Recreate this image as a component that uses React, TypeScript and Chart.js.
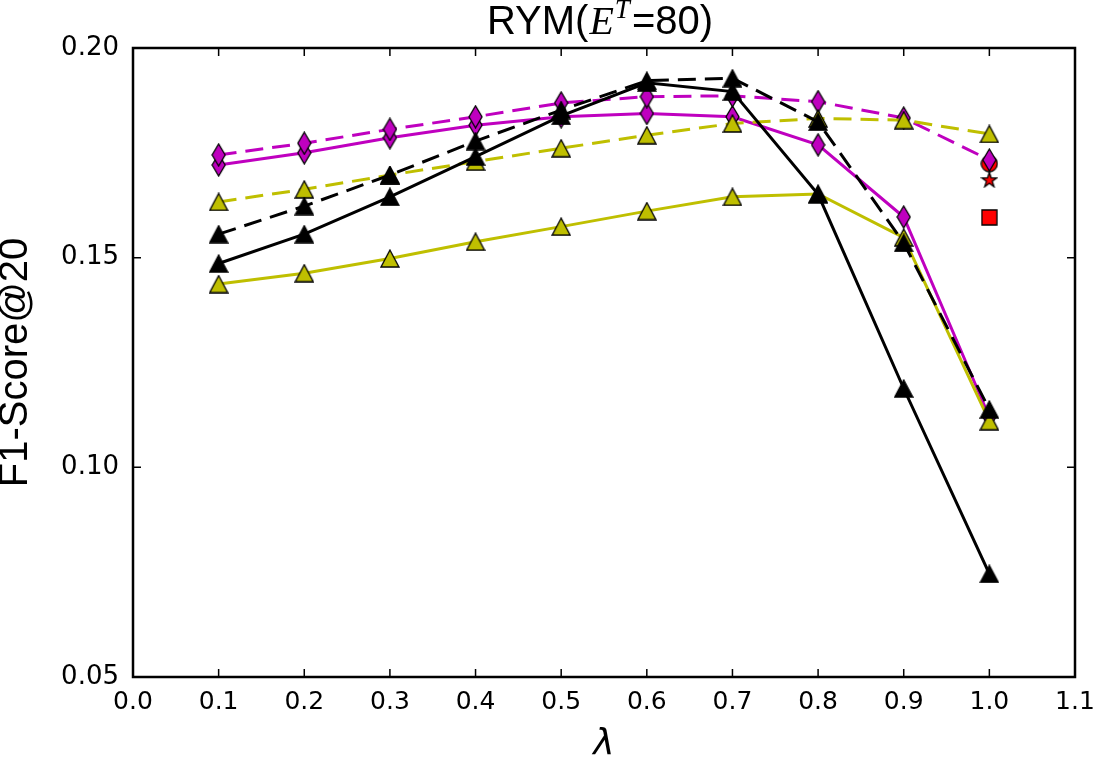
import React, { useEffect, useRef } from 'react';
import { Chart, registerables } from 'chart.js';

Chart.register(...registerables);

// ---- data ----
const lambdas = [0.1, 0.2, 0.3, 0.4, 0.5, 0.6, 0.7, 0.8, 0.9, 1.0];
const blackSolid = [0.1486, 0.1556, 0.1645, 0.1741, 0.1838, 0.1917, 0.1896, 0.1651, 0.1188, 0.0746];
const blackDashed = [0.1556, 0.1623, 0.1697, 0.1778, 0.1852, 0.1922, 0.1928, 0.1824, 0.1535, 0.1138];
const yellowSolid = [0.1437, 0.1463, 0.1498, 0.1538, 0.1574, 0.1611, 0.1645, 0.1652, 0.1548, 0.1110];
const yellowDashed = [0.1633, 0.1663, 0.1697, 0.1729, 0.1761, 0.1792, 0.1820, 0.1832, 0.1828, 0.1795];
const magentaSolid = [0.1721, 0.1750, 0.1786, 0.1816, 0.1836, 0.1844, 0.1836, 0.1769, 0.1597, 0.1120];
const magentaDashed = [0.1745, 0.1773, 0.1806, 0.1836, 0.1869, 0.1884, 0.1886, 0.1872, 0.1833, 0.1733];
const redCircle = [{ x: 1.0, y: 0.1724 }];
const redStar = [{ x: 1.0, y: 0.1687 }];
const redSquare = [{ x: 1.0, y: 0.1596 }];

const xMin = 0.0;
const xMax = 1.1;
const xStep = 0.1;
const yMin = 0.05;
const yMax = 0.2;
const yStep = 0.05;

const titleParts = [
  { text: 'RYM(', font: '40px "Liberation Sans", Arial, sans-serif', dy: 0 },
  { text: 'E', font: 'italic 40px "Liberation Serif", "DejaVu Serif", serif', dy: 0 },
  { text: 'T', font: 'italic 27px "Liberation Serif", "DejaVu Serif", serif', dy: -16 },
  { text: '=80)', font: '40px "Liberation Sans", Arial, sans-serif', dy: 0 },
];
const yTitle = 'F1-Score@20';
const xTitle = 'λ';

const YELLOW = '#bfbf00';
const MAGENTA = '#bf00bf';
const BLACK = '#000000';
const RED = '#ff0000';

function makeMarker(shape: string, fill: string, w: number, h: number): HTMLCanvasElement {
  const c = document.createElement('canvas');
  c.width = w;
  c.height = h;
  const ctx = c.getContext('2d')!;
  ctx.fillStyle = fill;
  ctx.strokeStyle = '#000';
  ctx.lineWidth = 1.3;
  ctx.lineJoin = 'miter';
  const m = 1;
  ctx.beginPath();
  if (shape === 'triangle') {
    ctx.moveTo(w / 2, m);
    ctx.lineTo(w - m, h - m);
    ctx.lineTo(m, h - m);
    ctx.closePath();
  } else if (shape === 'diamond') {
    ctx.moveTo(w / 2, m);
    ctx.lineTo(w - m, h / 2);
    ctx.lineTo(w / 2, h - m);
    ctx.lineTo(m, h / 2);
    ctx.closePath();
  } else if (shape === 'circle') {
    ctx.arc(w / 2, h / 2, w / 2 - m, 0, Math.PI * 2);
  } else if (shape === 'square') {
    ctx.rect(m, m, w - 2 * m, h - 2 * m);
  } else if (shape === 'star') {
    const ro = w / 2 - m;
    const ri = ro * 0.382;
    for (let i = 0; i < 10; i++) {
      const r = i % 2 === 0 ? ro : ri;
      const a = -Math.PI / 2 + (i * Math.PI) / 5;
      const px = w / 2 + r * Math.cos(a);
      const py = h / 2 + 1 + r * Math.sin(a);
      if (i === 0) ctx.moveTo(px, py);
      else ctx.lineTo(px, py);
    }
    ctx.closePath();
  }
  ctx.fill();
  ctx.stroke();
  return c;
}

const toPts = (arr: number[]) => lambdas.map((x, i) => ({ x, y: arr[i] }));

const decorPlugin = {
  id: 'decor',
  afterDraw(chart: any) {
    const { ctx, chartArea: a, scales } = chart;
    const sx = scales.x;
    const sy = scales.y;
    ctx.save();
    ctx.strokeStyle = '#000';
    ctx.lineWidth = 1.5;
    const L = 8;
    ctx.beginPath();
    sx.ticks.forEach((t: any) => {
      const px = sx.getPixelForValue(t.value);
      ctx.moveTo(px, a.bottom);
      ctx.lineTo(px, a.bottom - L);
      ctx.moveTo(px, a.top);
      ctx.lineTo(px, a.top + L);
    });
    sy.ticks.forEach((t: any) => {
      const py = sy.getPixelForValue(t.value);
      ctx.moveTo(a.left, py);
      ctx.lineTo(a.left + L, py);
      ctx.moveTo(a.right, py);
      ctx.lineTo(a.right - L, py);
    });
    ctx.stroke();
    ctx.lineWidth = 2.5;
    ctx.strokeRect(a.left, a.top, a.right - a.left, a.bottom - a.top);

    // title with math part
    ctx.fillStyle = '#000';
    ctx.textBaseline = 'alphabetic';
    ctx.textAlign = 'left';
    let total = 0;
    const gaps = [1, 1, 2, 0];
    const widths = titleParts.map((p, i) => {
      ctx.font = p.font;
      const w = ctx.measureText(p.text).width + gaps[i];
      total += w;
      return w;
    });
    let x = (a.left + a.right) / 2 - 4 - total / 2;
    const baseY = 34;
    titleParts.forEach((p, i) => {
      ctx.font = p.font;
      ctx.fillText(p.text, x, baseY + p.dy);
      x += widths[i];
    });
    ctx.restore();
  },
};

export default function App() {
  const ref = useRef<HTMLCanvasElement>(null);
  useEffect(() => {
    if (!ref.current) return;
    const tri = (fill: string) => makeMarker('triangle', fill, 20, 19);
    const dia = makeMarker('diamond', MAGENTA, 15, 24);
    const line = (label: string, arr: number[], color: string, dashed: boolean, style: any, order: number) => ({
      label,
      data: toPts(arr),
      borderColor: color,
      backgroundColor: color,
      borderWidth: 3,
      borderDash: dashed ? [18, 9] : [],
      pointStyle: style,
      pointRadius: 10,
      pointBorderWidth: 0,
      tension: 0,
      fill: false,
      order,
    });
    const single = (label: string, data: any[], style: any, order: number) => ({
      label,
      data,
      showLine: false,
      borderColor: RED,
      backgroundColor: RED,
      pointStyle: style,
      pointRadius: 9,
      pointBorderWidth: 0,
      order,
    });
    const chart = new Chart(ref.current, {
      type: 'line',
      data: {
        datasets: [
          single('circle', redCircle, makeMarker('circle', RED, 18, 18), 10),
          line('magenta solid', magentaSolid, MAGENTA, false, dia, 9),
          line('magenta dashed', magentaDashed, MAGENTA, true, dia, 8),
          line('yellow solid', yellowSolid, YELLOW, false, tri(YELLOW), 7),
          line('yellow dashed', yellowDashed, YELLOW, true, tri(YELLOW), 6),
          line('black solid', blackSolid, BLACK, false, tri(BLACK), 5),
          line('black dashed', blackDashed, BLACK, true, tri(BLACK), 4),
          single('star', redStar, makeMarker('star', RED, 18, 18), 3),
          single('square', redSquare, makeMarker('square', RED, 17, 17), 2),
        ] as any,
      },
      options: {
        animation: false,
        responsive: false,
        devicePixelRatio: 1,
        layout: { padding: { top: 48, right: 30, bottom: 0, left: 0 }, autoPadding: false } as any,
        plugins: {
          legend: { display: false },
          tooltip: { enabled: false },
          title: { display: false },
        },
        scales: {
          x: {
            type: 'linear',
            min: xMin,
            max: xMax,
            ticks: {
              stepSize: xStep,
              autoSkip: false,
              maxRotation: 0,
              padding: 10,
              color: '#000',
              font: { family: '"DejaVu Sans", sans-serif', size: 25 },
              callback: (v: any) => Number(v).toFixed(1),
            },
            grid: { display: false, drawTicks: false },
            border: { display: false },
            title: {
              display: true,
              text: xTitle,
              color: '#000',
              font: { family: '"DejaVu Sans", sans-serif', size: 36, style: 'italic' },
              padding: { top: 0, bottom: 0 },
            },
            afterFit: (s: any) => {
              s.height = 89;
            },
          },
          y: {
            type: 'linear',
            min: yMin,
            max: yMax,
            ticks: {
              stepSize: yStep,
              padding: 14,
              color: '#000',
              font: { family: '"DejaVu Sans", sans-serif', size: 26 },
              callback: (v: any) => Number(v).toFixed(2),
            },
            grid: { display: false, drawTicks: false },
            border: { display: false },
            title: {
              display: true,
              text: yTitle,
              color: '#000',
              font: { family: '"Liberation Sans", Arial, sans-serif', size: 40, lineHeight: 0.8 },
              padding: 0,
            },
            afterFit: (s: any) => {
              s.width = 133;
            },
          },
        },
      } as any,
      plugins: [decorPlugin],
    });
    return () => chart.destroy();
  }, []);
  return (
    <div style={{ position: 'absolute', left: 0, top: 0, width: 1105, height: 766, background: '#fff' }}>
      <canvas ref={ref} width={1105} height={766} style={{ display: 'block' }} />
    </div>
  );
}
